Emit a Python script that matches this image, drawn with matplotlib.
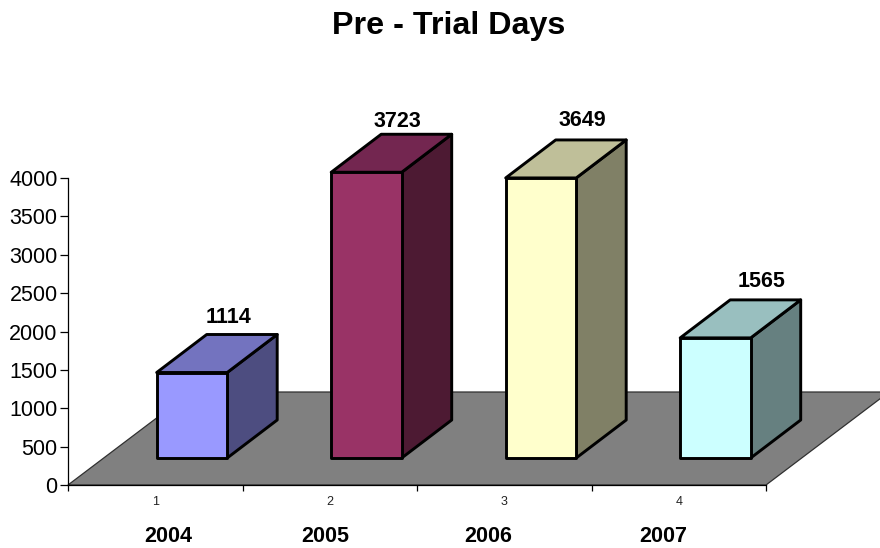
import matplotlib
matplotlib.use('Agg')
import matplotlib.pyplot as plt
from matplotlib.patches import Polygon

plt.rcParams['font.family'] = ['Liberation Sans', 'DejaVu Sans']

# data
years = ['2004', '2005', '2006', '2007']
categories = [1, 2, 3, 4]
days = [1114, 3723, 3649, 1565]
y_ticks = [0, 500, 1000, 1500, 2000, 2500, 3000, 3500, 4000]

# colours: front, top, side
front_colors = ['#9999FF', '#993366', '#FFFFCC', '#CCFFFF']
top_colors = ['#7373BF', '#732650', '#BFBF99', '#99BFBF']
side_colors = ['#4D4D80', '#4D1A33', '#808066', '#668080']

# layout in pixels
W, H = 880, 548
ax_left, ax_right, ax_bottom, ax_top = 68, 766, 485, 178
year_x = [168.5, 325.5, 488.5, 663]
label_off = [(37, 17), (31, 13), (41, 19), (46, 18)]

fig = plt.figure(figsize=(W / 100, H / 100), dpi=100)
ax = fig.add_axes([ax_left / W, 1 - ax_bottom / H,
                   (ax_right - ax_left) / W, (ax_bottom - ax_top) / H])
ax.set_xlim(0.5, 4.5)
ax.set_ylim(0, 4000)
ax.patch.set_alpha(0)

# depth of the fake 3d, in data units
px_x = 4 / (ax_right - ax_left)
px_y = 4000 / (ax_bottom - ax_top)
floor_dx, floor_dy = 123 * px_x, 93 * px_y
bar_dx, bar_dy = 50 * px_x, 38 * px_y
shift_x, base = 36.7 * px_x, 27 * px_y
bar_w = 70.5 * px_x

# floor
ax.add_patch(Polygon([(0.5, 0), (4.5, 0), (4.5 + floor_dx, floor_dy), (0.5 + floor_dx, floor_dy)],
                     closed=True, fc='#808080', ec='#303030', lw=0.9, clip_on=False, zorder=1))

for i, (c, v) in enumerate(zip(categories, days)):
    x0 = c + shift_x - bar_w / 2
    x1 = x0 + bar_w
    top = base + v
    style = dict(closed=True, ec='black', lw=2.1, joinstyle='round', clip_on=False, zorder=3)
    ax.add_patch(Polygon([(x1, base), (x1 + bar_dx, base + bar_dy), (x1 + bar_dx, top + bar_dy), (x1, top)],
                         fc=side_colors[i], **style))
    ax.add_patch(Polygon([(x0, top), (x1, top), (x1 + bar_dx, top + bar_dy), (x0 + bar_dx, top + bar_dy)],
                         fc=top_colors[i], **style))
    ax.add_patch(Polygon([(x0, base), (x1, base), (x1, top), (x0, top)],
                         fc=front_colors[i], **style))
    ax.annotate(str(v), xy=(c + shift_x, top + bar_dy), xytext=(label_off[i][0] * 0.72, label_off[i][1] * 0.72),
                textcoords='offset points', ha='center', va='center',
                fontsize=15.5, fontweight='bold', annotation_clip=False, zorder=4)

# axes
for s in ['top', 'right']:
    ax.spines[s].set_visible(False)
ax.spines['left'].set_linewidth(0.9)
ax.spines['bottom'].set_linewidth(0.9)
ax.spines['bottom'].set_zorder(2)
ax.set_yticks(y_ticks)
ax.tick_params(axis='y', labelsize=15.5, length=6, width=0.9, pad=1.5)
ax.set_xticks([0.5, 1.5, 2.5, 3.5, 4.5])
ax.set_xticklabels([])
ax.set_xticks(categories, minor=True)
ax.set_xticklabels([str(c) for c in categories], minor=True)
ax.tick_params(axis='x', which='major', length=4.5, width=0.9)
ax.tick_params(axis='x', which='minor', length=0, labelsize=9, pad=8, labelcolor='#222222')

for x, y in zip(year_x, years):
    fig.text(x / W, 1 - 537 / H, y, ha='center', va='center', fontsize=15.5, fontweight='bold')

fig.text(449 / W, 1 - 26 / H, 'Pre - Trial Days', ha='center', va='center', fontsize=23.2, fontweight='bold')

fig.savefig('out.png', dpi=100)
